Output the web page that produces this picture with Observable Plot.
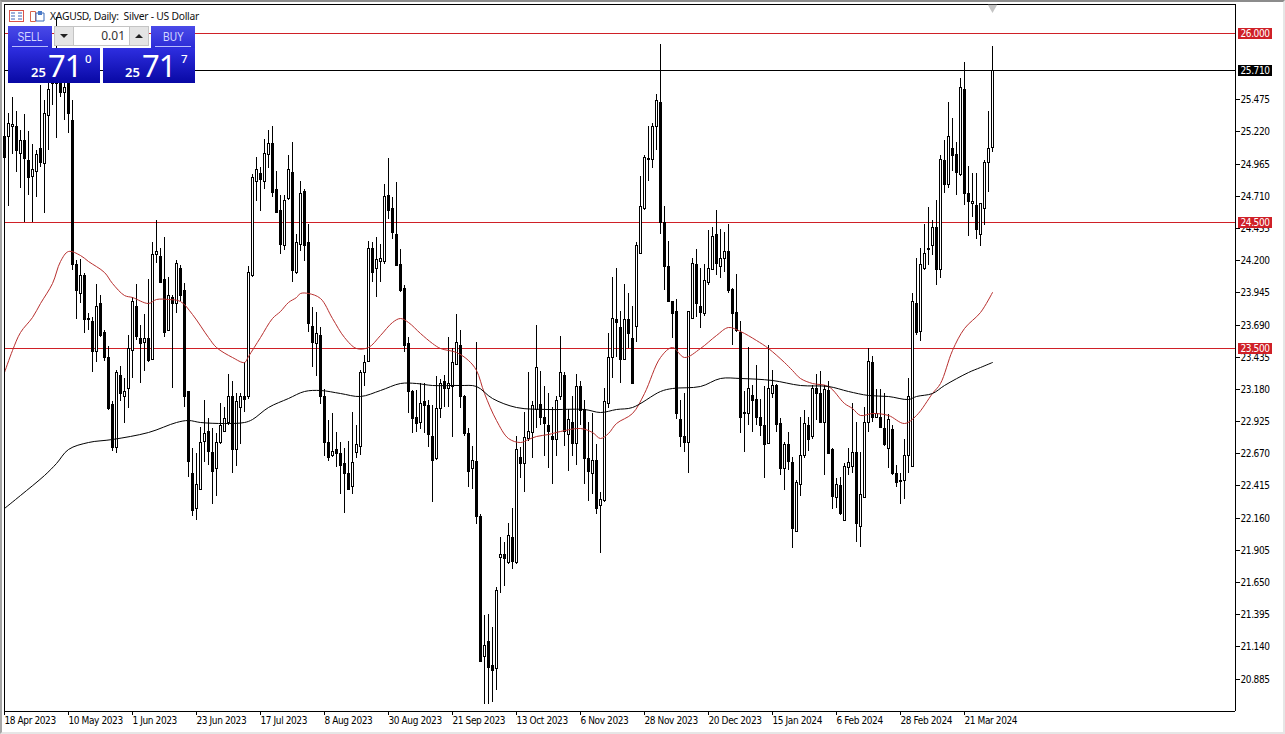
<!DOCTYPE html>
<html>
<head>
<meta charset="utf-8">
<script src="https://cdn.jsdelivr.net/npm/d3@7"></script>
<script src="https://cdn.jsdelivr.net/npm/@observablehq/plot@0.6"></script>
<style>
html,body{margin:0;padding:0;background:#fff;}
#wrap{position:relative;width:1285px;height:734px;overflow:hidden;font-family:"Noto Sans","Liberation Sans",sans-serif;}
#wrap svg{display:block;}
#wrap > svg text{letter-spacing:-0.4px;}
#edge{position:absolute;left:0;top:0;right:0;bottom:0;box-sizing:border-box;border-left:2px solid #a6a6a6;border-top:2px solid #8c8c8c;border-right:2px solid #e6e6e6;border-bottom:2px solid #e6e6e6;pointer-events:none;}
.a{position:absolute;box-sizing:border-box;}
.btn{background:linear-gradient(#4a4ae8,#2a2ad6);color:#d4d8ff;font-family:"Liberation Sans",sans-serif;font-size:13px;text-align:center;line-height:21px;}
.btn span{display:inline-block;transform:scaleX(0.78);}
.btn i{position:absolute;left:4px;right:4px;bottom:2px;height:1px;background:#b8bcff;}
.quote{background:linear-gradient(#2e2ee0,#0808a4);color:#fff;}
.quote b{position:absolute;font-weight:600;}
.quote span{position:absolute;font-weight:400;letter-spacing:-1px;}
</style>
</head>
<body>
<div id="wrap"></div>
<script>
const dateLabels = ["18 Apr 2023","10 May 2023","1 Jun 2023","23 Jun 2023","17 Jul 2023","8 Aug 2023","30 Aug 2023","21 Sep 2023","13 Oct 2023","6 Nov 2023","28 Nov 2023","20 Dec 2023","15 Jan 2024","6 Feb 2024","28 Feb 2024","21 Mar 2024"];
const dateTickIdx = [0,16,32,48,64,80,96,112,128,144,160,176,192,208,224,240];
const priceTicks = [25.475,25.22,24.965,24.71,24.455,24.2,23.945,23.69,23.435,23.18,22.925,22.67,22.415,22.16,21.905,21.65,21.395,21.14,20.885];
const levelPrices = [26.0,25.71,24.5,23.5];
const levelColors = ["#cf2027","#000000","#cf2027","#cf2027"];

const opens = [
25.18,25.18,25.26,25.26,25.05,25.15,24.99,24.87,24.91,25.09,24.97,25.35,25.71,25.60,25.71,25.53,
25.63,25.31,24.17,23.94,24.08,23.74,23.72,23.48,23.86,23.63,23.43,23.06,22.72,23.29,23.12,23.19,
23.49,23.84,23.58,23.55,23.58,23.42,24.25,24.23,24.05,23.65,23.91,23.86,24.14,23.96,23.16,22.51,
22.24,22.39,22.77,22.85,22.68,22.55,22.76,22.85,22.92,23.12,22.70,23.04,23.12,23.12,24.08,24.83,
24.89,24.83,25.04,25.13,24.76,24.60,24.32,24.69,24.90,24.11,24.33,24.75,24.34,23.68,23.54,23.61,
23.12,22.76,22.66,22.70,22.67,22.59,22.51,22.41,22.68,22.73,23.31,23.40,24.30,24.14,24.19,24.19,
24.72,24.61,24.41,24.17,23.98,23.54,23.16,22.96,22.92,23.08,23.05,22.81,22.63,23.03,23.24,23.19,
23.20,23.38,23.53,23.12,22.83,22.55,22.61,22.17,21.06,21.18,20.99,20.97,21.85,21.87,21.81,22.01,
21.81,22.64,22.59,22.79,22.84,23.02,23.06,22.96,22.89,22.81,22.78,23.12,23.29,22.82,22.92,22.75,
23.20,23.02,22.63,22.51,22.62,22.26,22.30,23.07,23.43,23.73,23.67,23.42,23.73,23.58,23.68,24.26,
24.61,25.01,25.00,25.26,25.45,24.50,24.15,23.88,23.80,22.94,22.81,22.76,23.74,24.17,23.84,23.78,
24.03,24.13,24.41,24.15,24.22,24.27,23.97,23.79,23.63,22.99,22.99,23.13,23.10,22.96,22.89,22.75,
23.15,23.21,22.91,22.55,22.74,22.60,22.05,22.43,22.66,22.89,22.81,23.19,23.15,22.92,23.17,22.70,
22.32,22.42,22.14,22.56,22.57,22.68,22.09,22.32,22.92,23.39,22.96,22.96,22.87,22.71,22.86,22.51,
22.46,22.46,22.66,22.57,23.86,23.64,24.14,24.30,24.32,24.46,24.13,24.99,24.80,25.09,25.04,24.88,
25.56,24.73,24.65,24.64,24.41,24.61,24.98,25.10];
const closes = [
25.02,25.29,25.28,25.07,25.15,25.01,24.86,24.92,25.04,24.98,25.37,25.56,25.60,25.74,25.53,25.57,
25.37,24.17,23.96,24.08,23.73,23.73,23.48,23.84,23.61,23.43,23.03,22.72,23.31,23.15,23.16,23.50,
23.88,23.60,23.54,23.58,23.41,24.25,24.27,24.03,23.63,23.92,23.86,24.18,23.92,23.12,22.61,22.22,
22.43,22.76,22.83,22.69,22.53,22.76,22.89,22.95,23.12,22.70,23.08,23.12,23.10,24.11,24.86,24.92,
24.84,25.05,25.13,24.74,24.58,24.33,24.68,24.92,24.12,24.34,24.73,24.32,23.70,23.55,23.62,23.12,
22.76,22.64,22.69,22.67,22.58,22.51,22.39,22.60,22.74,23.31,23.39,24.30,24.11,24.21,24.22,24.71,
24.60,24.42,24.16,23.96,23.53,23.16,22.95,22.91,23.07,23.05,22.82,22.62,23.03,23.23,23.19,23.23,
23.39,23.55,23.12,22.83,22.53,22.62,22.17,21.02,21.15,20.98,20.95,21.59,21.87,21.84,22.02,21.82,
22.70,22.59,22.80,22.85,23.05,23.35,22.96,22.91,22.85,22.78,23.09,23.31,22.85,22.94,22.75,23.20,
23.01,22.63,22.53,22.62,22.24,22.31,23.08,23.43,23.74,23.71,23.42,23.73,23.62,23.23,24.32,24.63,
25.02,25.00,25.26,25.47,24.50,24.15,23.88,23.78,22.99,22.81,22.76,23.80,24.18,23.86,23.79,24.04,
24.14,24.39,24.18,24.22,24.27,23.96,23.78,23.65,22.96,23.00,23.19,23.09,22.96,22.89,22.74,23.19,
23.21,22.90,22.55,22.74,22.61,22.08,22.44,22.66,22.91,22.78,23.19,23.15,22.92,23.18,22.67,22.33,
22.43,22.20,22.57,22.60,22.68,22.12,22.35,22.92,23.40,22.96,22.99,22.88,22.74,22.94,22.51,22.44,
22.45,22.66,23.12,23.88,23.63,24.17,24.26,24.29,24.46,24.13,25.00,24.80,25.18,25.03,24.90,25.57,
24.73,24.67,24.67,24.45,24.65,24.98,25.09,25.71];
const highs = [
25.27,25.37,25.49,25.38,25.23,25.36,25.22,25.12,25.07,25.59,25.47,25.64,25.77,26.13,25.80,25.71,
25.71,25.47,24.20,24.21,24.10,23.78,23.75,24.01,23.92,23.65,23.52,23.08,23.33,23.36,23.27,23.61,
23.91,24.01,23.69,23.77,24.05,24.34,24.52,24.30,24.38,24.07,23.92,24.20,24.16,24.02,23.16,22.71,
22.67,22.88,23.09,22.95,22.87,22.83,23.07,23.04,23.30,23.24,23.15,23.15,23.39,24.15,24.88,25.02,
24.94,25.16,25.23,25.26,24.91,24.72,24.72,25.03,25.14,24.41,24.83,24.76,24.49,23.83,23.79,23.67,
23.18,22.93,22.99,22.84,22.76,22.71,22.77,23.00,22.89,23.33,23.45,24.35,24.34,24.38,24.33,24.80,
25.01,24.70,24.82,24.29,24.00,23.59,23.17,23.17,23.23,23.23,23.09,23.05,23.28,23.26,23.29,23.59,
23.50,23.77,23.65,23.13,22.87,22.73,23.55,22.19,21.39,21.40,21.29,21.61,22.01,21.97,22.12,22.24,
22.81,22.72,23.00,23.31,23.08,23.69,23.32,23.20,23.15,23.04,23.12,23.60,23.31,23.02,23.12,23.30,
23.24,23.09,22.92,22.99,22.74,22.36,23.19,23.62,24.07,24.14,23.80,24.01,23.94,23.84,24.34,24.87,
25.03,25.26,25.29,25.52,25.91,24.63,24.35,23.88,23.89,23.09,23.15,23.80,24.22,24.29,24.14,24.17,
24.44,24.46,24.60,24.45,24.42,24.49,23.98,24.09,23.72,23.16,23.51,23.21,23.37,23.10,23.20,23.53,
23.33,23.22,22.95,22.76,22.84,22.64,22.46,22.96,23.01,22.96,23.21,23.30,23.32,23.21,23.24,22.71,
22.47,22.48,22.59,22.71,23.07,22.92,22.68,23.04,23.50,23.44,23.18,23.18,23.15,22.98,22.89,22.58,
22.51,22.78,23.27,23.94,24.22,24.30,24.49,24.62,24.52,24.68,25.03,25.15,25.45,25.33,25.14,25.64,
25.77,24.95,24.89,24.89,24.65,24.99,25.38,25.90];
const lows = [
24.80,24.63,25.04,24.90,24.77,24.50,24.72,24.50,24.70,24.94,24.57,25.07,25.43,25.17,25.49,25.31,
25.21,24.12,23.73,23.86,23.62,23.65,23.31,23.39,23.59,23.40,23.01,22.69,22.67,23.08,22.91,23.03,
23.27,23.57,23.23,23.32,23.39,23.41,24.18,24.02,23.59,23.64,23.19,23.78,23.88,23.04,22.48,22.17,
22.14,22.39,22.60,22.58,22.27,22.33,22.74,22.85,22.89,22.51,22.57,22.74,23.00,23.10,24.07,24.67,
24.59,24.76,24.93,24.70,24.57,24.25,24.28,24.68,24.03,24.09,24.27,24.19,23.63,23.35,23.28,23.06,
22.65,22.61,22.64,22.56,22.35,22.20,22.39,22.35,22.63,22.66,23.20,23.39,24.03,23.91,24.03,24.17,
24.53,24.37,24.15,23.95,23.47,22.99,22.83,22.84,22.86,22.83,22.72,22.28,22.62,22.95,23.04,23.04,
22.80,23.37,23.03,22.81,22.40,22.39,22.11,21.02,20.68,20.68,20.70,20.79,21.56,21.62,21.79,21.75,
21.79,22.47,22.36,22.77,22.63,22.87,22.89,22.65,22.55,22.43,22.65,23.09,22.73,22.53,22.65,22.58,
22.89,22.43,22.29,22.35,22.19,21.88,22.28,23.03,23.27,23.43,23.23,23.41,23.50,23.22,23.55,24.26,
24.60,24.83,24.93,25.07,24.41,23.96,23.87,23.58,22.94,22.72,22.68,22.51,23.73,23.75,23.66,23.76,
24.00,24.12,24.08,24.06,24.11,23.94,23.53,23.63,22.83,22.68,22.89,22.84,22.89,22.81,22.47,22.74,
23.11,22.84,22.50,22.38,22.54,21.92,22.05,22.33,22.63,22.69,22.78,22.93,22.92,22.50,22.67,22.23,
22.24,22.18,22.14,22.50,22.51,21.97,21.93,22.32,22.84,22.92,22.95,22.87,22.73,22.55,22.50,22.40,
22.27,22.31,22.51,22.56,23.61,23.56,24.12,24.16,24.24,24.00,24.06,24.73,24.77,24.91,24.72,24.87,
24.64,24.39,24.54,24.37,24.31,24.48,24.74,25.06];

const redIdx = [0,2,4,7,9,12,14,16,19,21,25,27,30,32,36,38,41,44,47,51,53,57,60,61,64,67,69,71,73,74,76,79,82,85,88,91,94,97,99,101,104,107,109,113,116,118,120,123,126,129,131,133,136,139,144,147,149,151,153,157,160,164,167,170,174,178,181,184,188,191,195,197,199,202,206,210,212,214,217,221,225,228,232,234,237,240,244,247];
const redVal = [23.31,23.49,23.63,23.75,23.86,24.02,24.19,24.27,24.24,24.19,24.11,24.02,23.92,23.91,23.86,23.89,23.89,23.88,23.77,23.59,23.51,23.43,23.39,23.44,23.59,23.74,23.80,23.87,23.91,23.94,23.94,23.90,23.74,23.59,23.50,23.51,23.61,23.71,23.74,23.71,23.62,23.54,23.50,23.47,23.41,23.33,23.15,22.93,22.79,22.76,22.78,22.81,22.82,22.85,22.87,22.84,22.79,22.83,22.91,22.99,23.15,23.43,23.51,23.43,23.50,23.61,23.67,23.64,23.57,23.50,23.39,23.33,23.27,23.23,23.20,23.07,23.03,22.97,22.99,22.97,22.91,22.97,23.15,23.23,23.49,23.66,23.79,23.95];
const blackIdx = [0,4,10,13,16,21,27,36,43,46,49,55,60,62,66,71,75,79,84,89,94,99,103,107,114,118,122,128,136,145,149,153,157,164,167,174,179,184,192,199,206,211,216,221,226,228,232,235,241,244,247];
const blackVal = [22.24,22.34,22.50,22.59,22.70,22.76,22.78,22.84,22.92,22.93,22.92,22.91,22.92,22.94,23.04,23.11,23.16,23.17,23.15,23.12,23.17,23.23,23.23,23.21,23.21,23.20,23.11,23.04,23.02,23.02,23.00,23.02,23.04,23.16,23.19,23.20,23.27,23.27,23.25,23.21,23.20,23.16,23.13,23.12,23.10,23.12,23.15,23.21,23.31,23.35,23.39];

const candles = opens.map((o,i)=>({i,o,c:closes[i],h:highs[i],l:lows[i]}));
const red = redIdx.map((i,k)=>({i,v:redVal[k]}));
const blk = blackIdx.map((i,k)=>({i,v:blackVal[k]}));
const levels = levelPrices.map((p,k)=>({p,color:levelColors[k]}));

const AXIS_FONT = "'DejaVu Sans Condensed','Liberation Sans',sans-serif";
const LAST = 247, X_END = 307.75;

const chart = Plot.plot({
  width:1285, height:734,
  marginLeft:4, marginRight:50, marginTop:4, marginBottom:23,
  x:{type:"linear",domain:[0,X_END],axis:null},
  y:{type:"linear",domain:[20.6275,26.2298],axis:null,round:true},
  style:{background:"#fff",overflow:"hidden"},
  marks:[
    Plot.ruleY(levels,{y:"p",x1:0,x2:X_END,stroke:"color",strokeWidth:1}),
    Plot.ruleX(candles,{x:"i",y1:"l",y2:"h",stroke:"#000",strokeWidth:1}),
    Plot.rect(candles,{x1:d=>d.i-0.25,x2:d=>d.i+0.25,y1:"o",y2:"c",fill:d=>d.c>=d.o?"#fff":"#000",stroke:"#000",strokeWidth:1,dx:0.5,dy:0.5}),
    Plot.line(red,{x:"i",y:"v",stroke:"#b8302f",strokeWidth:1,curve:"catmull-rom"}),
    Plot.line(blk,{x:"i",y:"v",stroke:"#000",strokeWidth:1,curve:"catmull-rom"}),
    Plot.ruleX([0,X_END],{stroke:"#000"}),
    Plot.ruleY([20.6275,26.2298],{stroke:"#000"}),
    Plot.dot([LAST],{x:d=>d,y:()=>26.205,symbol:"triangle",rotate:180,r:3.5,fill:"#c4c4c4",stroke:"none"}),
    Plot.axisX({ticks:dateTickIdx,tickFormat:d=>dateLabels[dateTickIdx.indexOf(d)],anchor:"bottom",tickSize:4,tickPadding:1,textAnchor:"start",fontSize:10,fontFamily:AXIS_FONT,label:null,stroke:"#000",fill:"#000"}),
    Plot.axisY({ticks:priceTicks,tickFormat:d=>d.toFixed(3),anchor:"right",tickSize:4,tickPadding:1,fontSize:10,fontFamily:AXIS_FONT,label:null,stroke:"#000",fill:"#000"}),
    Plot.ruleY(levels,{y:"p",x1:308.5,x2:317,stroke:"color",strokeWidth:11}),
    Plot.text(levels,{y:"p",x:309,text:d=>d.p.toFixed(3),textAnchor:"start",fill:"#fff",fontSize:10,fontFamily:AXIS_FONT})
  ]
});

const wrap = document.getElementById("wrap");
wrap.appendChild(chart);

const quote = (left,w,b,big,sup,bx,tx,sx)=>`<div class="a quote" style="left:${left}px;top:48px;width:${w}px;height:35px;">
<b style="left:${bx}px;top:15.5px;font-size:13px;line-height:16px;">${b}</b>
<span style="left:${tx}px;top:-3px;font-size:31px;line-height:40px;">${big}</span>
<b style="left:${sx}px;top:4px;font-size:11.5px;line-height:13px;font-weight:500;">${sup}</b></div>`;

const overlay = document.createElement("div");
overlay.innerHTML = `
<div class="a" style="left:50px;top:9px;font-size:10.3px;line-height:15px;letter-spacing:-0.25px;color:#111;white-space:pre;">XAGUSD, Daily:  Silver - US Dollar</div>
<svg class="a" style="left:9px;top:10px;" width="38" height="13">
 <rect x="0.5" y="0.5" width="14" height="11" fill="#fff" stroke="#d9534a"/>
 <path d="M2 3h4M2 6h4M2 9h4M9 3h4M9 6h4M9 9h4" stroke="#3a62b8" stroke-width="1"/>
 <path d="M21.5 1.5h5v10h-5z" fill="#fff" stroke="#d9634a"/>
 <path d="M27 3h8v8h-8z" fill="#fff" stroke="#3a6ab8"/>
 <path d="M29 1h4v4h-4z" fill="#4a7ac8"/>
</svg>
<div class="a btn" style="left:8px;top:26px;width:44px;height:23px;"><span>SELL</span><i></i></div>
<div class="a" style="left:54px;top:26px;width:20px;height:20px;background:#e4e4e4;border:1px solid #c4c4c4;"></div>
<div class="a" style="left:60px;top:34px;width:0;height:0;border-left:4px solid transparent;border-right:4px solid transparent;border-top:4px solid #222;"></div>
<div class="a" style="left:74px;top:26px;width:55px;height:20px;background:#fff;border-top:1px solid #c4c4c4;border-bottom:1px solid #c4c4c4;font-size:12px;line-height:18px;text-align:right;padding-right:4px;color:#333;">0.01</div>
<div class="a" style="left:129px;top:26px;width:20px;height:20px;background:#e4e4e4;border:1px solid #c4c4c4;"></div>
<div class="a" style="left:135px;top:34px;width:0;height:0;border-left:4px solid transparent;border-right:4px solid transparent;border-bottom:4px solid #222;"></div>
<div class="a btn" style="left:151px;top:26px;width:44px;height:23px;"><span>BUY</span><i></i></div>
${quote(8,92,"25","71","0",23,40,77)}
${quote(103,92,"25","71","7",22,39,78)}
<div id="edge"></div>`;
wrap.appendChild(overlay);
</script>
</body>
</html>
